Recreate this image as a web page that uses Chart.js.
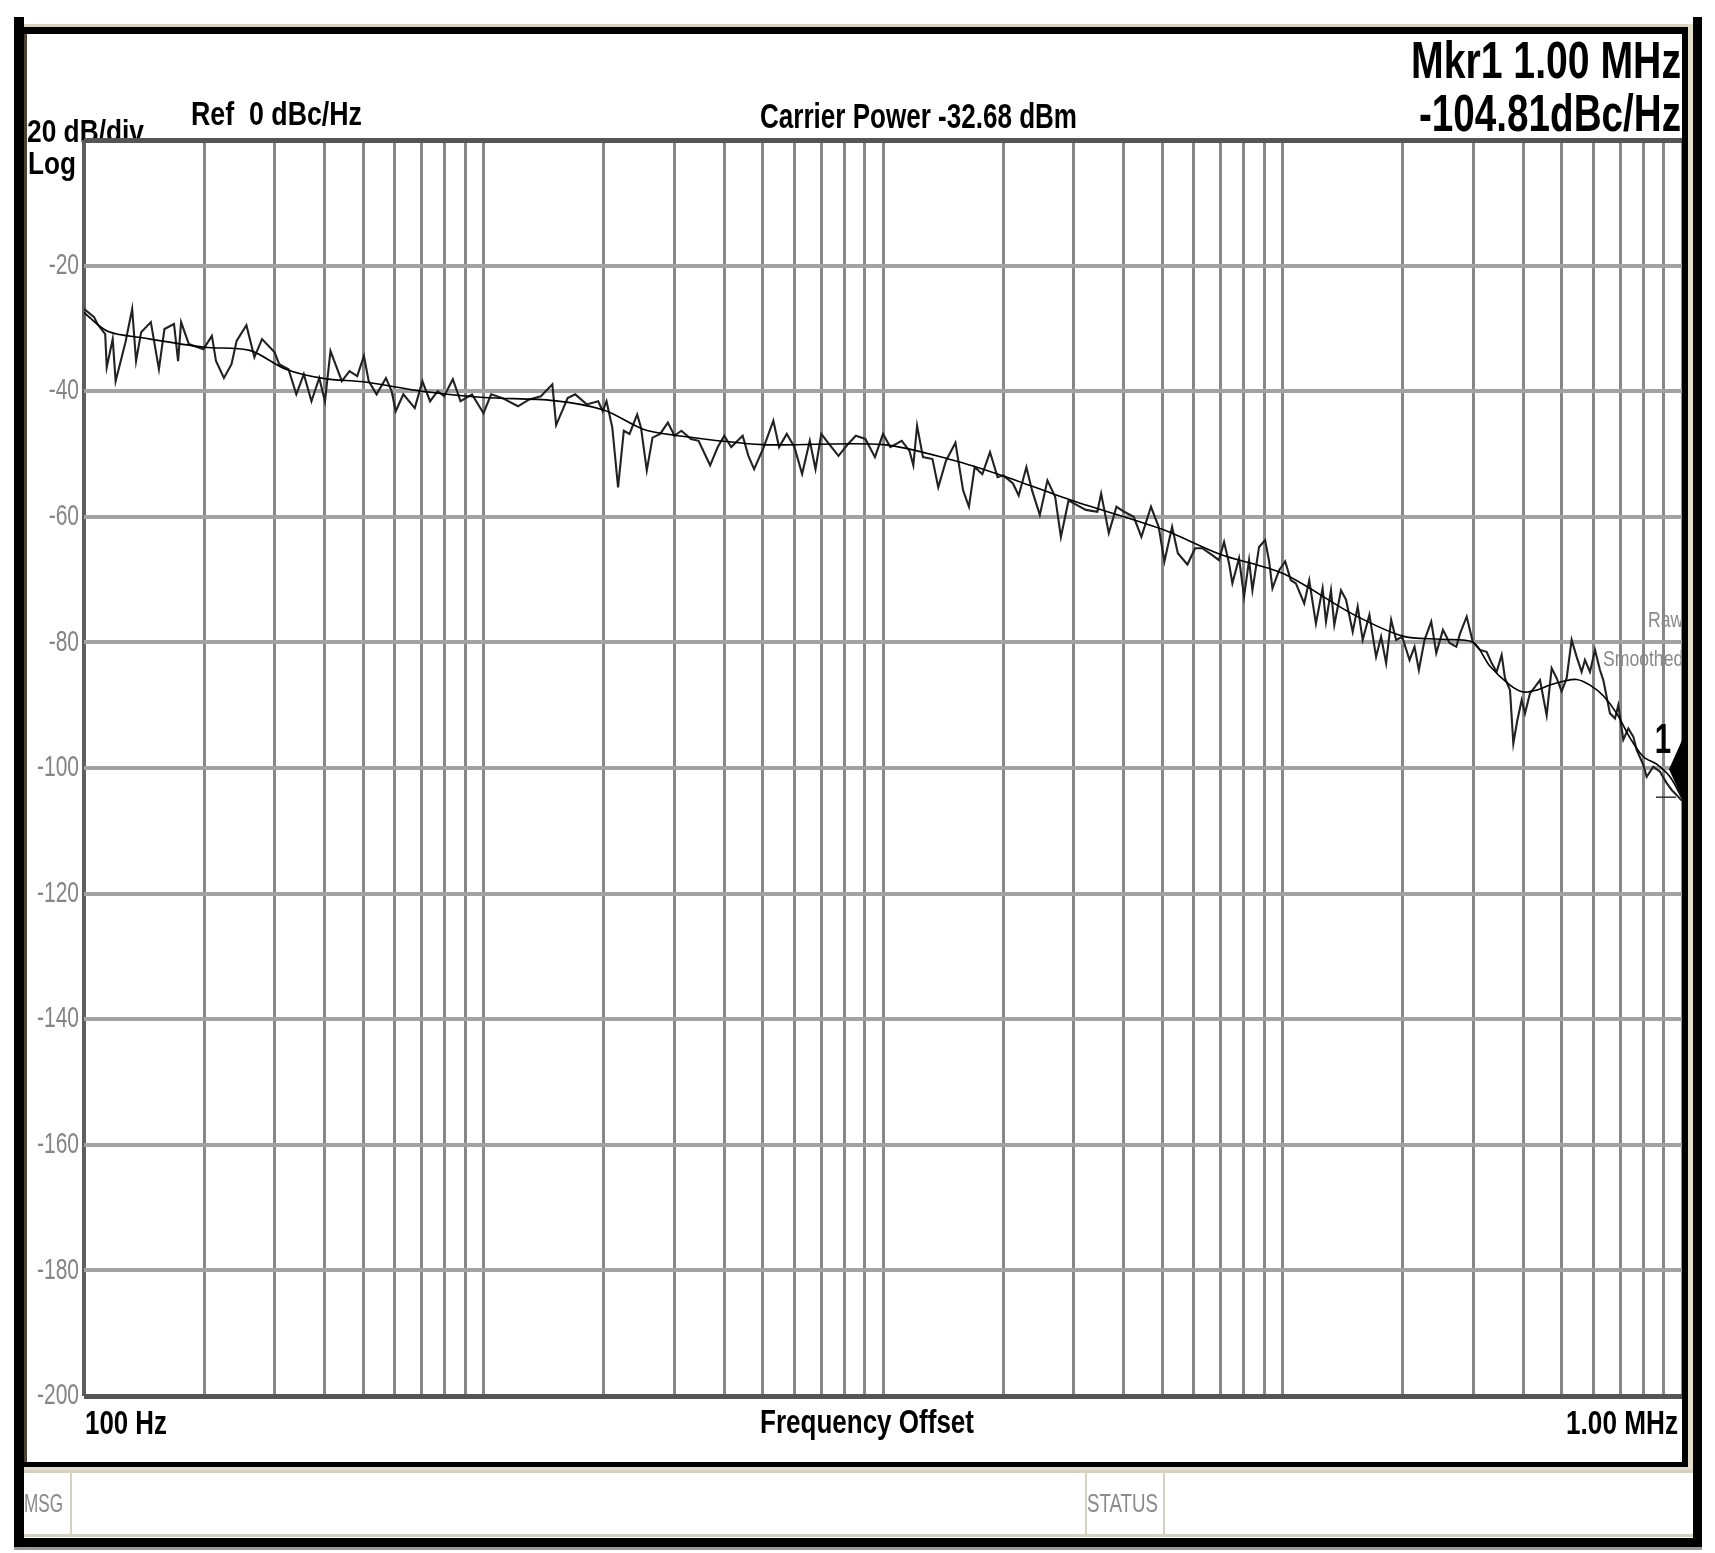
<!DOCTYPE html>
<html>
<head>
<meta charset="utf-8">
<title>Phase Noise - Frequency Offset</title>
<script src="https://cdn.jsdelivr.net/npm/chart.js@4.4.1/dist/chart.umd.min.js"></script>
<style>
    html, body { margin: 0; padding: 0; background: #fff; }
    canvas { display: block; }
</style>
</head>
<body>
<canvas id="pnChart" width="1715" height="1553"></canvas>
<script>
// --- Data ---
// raw trace: offset frequency (Hz) / level (dBc/Hz)
const rawFreq = [
    // 100 Hz .. 2 kHz
    100, 106, 108, 113, 114, 118, 120, 127, 132, 135,
    139, 147, 154, 159, 168, 172, 175, 183, 199, 209,
    214, 224, 234, 241, 255, 267, 279, 300, 308, 325,
    340, 355, 371, 388, 401, 414, 442, 462, 483, 502,
    516, 540, 570, 589, 603, 630, 673, 703, 735, 768,
    797, 838, 876, 936, 1000, 1045, 1116, 1220, 1302, 1392,
    1487, 1520, 1624, 1697, 1813, 1937,
    // 2 kHz .. 60 kHz
    1988, 2032, 2101, 2172, 2245, 2320, 2425, 2479, 2563, 2649,
    2769, 2894, 3006, 3129, 3306, 3454, 3692, 3858, 4006, 4169,
    4454, 4603, 4758, 5029, 5315, 5494, 5743, 6003, 6274, 6557,
    6777, 7006, 7322, 7738, 8179, 8549, 9035, 9546, 10000, 10430,
    11140, 11650, 11910, 12170, 12590, 13300, 13750, 14370, 15180, 15870,
    16410, 16960, 17730, 18530, 19360, 20010, 21150, 21860, 22850, 23610,
    24690, 25800, 26970, 27880, 29140, 30120, 32200, 34400, 35160, 36750,
    38410, 40150, 42420, 44340, 46860, 48980, 50630, 52920, 54700, 57810,
    60420,
    // 60 kHz .. 270 kHz
    62970, 66710, 69340, 71400, 73480, 74910, 77840, 80130, 82480, 84090,
    87380, 90460, 92580, 94380, 98080, 101550, 104930, 108020, 113340, 116670,
    121240, 126010, 128470, 132240, 134810, 140100, 144210, 149870, 154260, 158770,
    165030, 171500, 176540, 181700, 187060, 192530, 199300, 207970, 214050, 219470,
    226770, 235690, 242610, 252140, 262040, 272330,
    // 270 kHz .. 1 MHz
    278200, 289100, 299400, 312100, 324300, 333800, 343600, 353700, 360500, 371100,
    378300, 387100, 396900, 404600, 416400, 428600, 441100, 458400, 471800, 485600,
    499700, 514400, 529400, 544900, 560800, 571600, 588400, 605600, 623300, 635300,
    660300, 679600, 692700, 713000, 733800, 755200, 770000, 800100, 815800, 847500,
    880900, 915600, 942400, 979000, 1000000
];
const rawLevel = [
    -26.9, -28.2, -29.3, -30.9, -36.2, -31.7, -38.4, -32.2, -26.9, -35.2,
    -30.6, -29.0, -36.5, -30.1, -29.3, -35.2, -29.0, -32.5, -33.3, -31.2,
    -35.2, -37.9, -35.7, -32.0, -29.5, -34.6, -31.7, -33.8, -35.7, -36.5,
    -40.5, -37.3, -41.6, -37.9, -41.6, -33.6, -38.4, -36.8, -37.6, -34.4,
    -38.4, -40.5, -37.9, -40.0, -43.2, -40.5, -42.7, -38.4, -41.6, -40.0,
    -40.8, -38.1, -41.6, -40.5, -43.5, -40.5, -41.1, -42.4, -41.3, -40.8,
    -38.9, -45.4, -41.1, -40.5, -42.1, -41.6,

    -43.2, -41.6, -45.8, -55.3, -46.3, -46.8, -43.7, -45.8, -52.6, -47.4,
    -46.8, -45.0, -47.1, -46.3, -47.6, -47.9, -51.8, -48.9, -47.1, -48.9,
    -47.1, -50.3, -52.4, -48.9, -44.7, -48.9, -46.8, -48.9, -53.2, -47.9,
    -52.4, -46.8, -48.4, -50.3, -48.4, -47.1, -47.6, -50.5, -46.8, -48.9,
    -47.9, -49.5, -51.8, -45.5, -50.5, -50.8, -55.3, -51.1, -48.2, -55.8,
    -58.4, -52.1, -53.2, -49.7, -53.7, -53.4, -54.7, -56.6, -52.1, -55.8,
    -59.7, -54.2, -56.8, -63.2, -57.4, -57.9, -58.9, -59.2, -56.3, -62.6,
    -58.4, -59.2, -60.0, -63.2, -58.4, -61.6, -67.1, -61.6, -65.8, -67.6,
    -65.0,

    -65.0, -66.1, -66.9, -64.0, -67.4, -70.6, -66.6, -72.7, -66.9, -71.7,
    -64.8, -63.7, -67.1, -71.4, -68.5, -67.1, -70.1, -70.6, -73.8, -70.1,
    -77.0, -71.4, -76.7, -71.7, -77.2, -71.7, -73.2, -78.3, -74.3, -79.6,
    -75.6, -82.3, -79.1, -83.3, -76.4, -79.6, -79.1, -82.8, -80.7, -84.4,
    -79.6, -76.7, -81.7, -78.0, -80.1, -80.7,

    -78.6, -75.9, -79.9, -81.2, -81.5, -83.3, -84.7, -82.0, -85.7, -87.6,
    -96.1, -92.4, -89.2, -91.3, -88.1, -87.1, -86.0, -91.6, -84.1, -85.7,
    -87.8, -85.7, -79.6, -82.3, -84.7, -82.8, -84.7, -81.2, -84.4, -86.0,
    -91.3, -92.1, -90.0, -95.5, -93.7, -95.0, -97.1, -99.5, -101.4, -99.8,
    -100.6, -102.4, -103.5, -104.6, -105.2
];

// smoothed trace
const smoothFreq = [
    100, 115, 140, 200, 260, 320, 400, 500, 700, 1000,
    1500, 2000, 2500, 3000, 5000, 10000, 15000, 20000, 30000, 50000,
    70000, 100000, 150000, 200000, 250000, 300000, 330700, 371100, 400600, 432800,
    467300, 504700, 544900, 588400, 635300, 686200, 741000, 800100, 864000, 933000,
    1000000
];
const smoothLevel = [
    -27.5, -30.5, -31.5, -33, -33.5, -36.5, -38, -38.5, -40, -41,
    -41.5, -43, -46, -47, -48.5, -48.5, -51, -53.5, -57.5, -62,
    -66, -69, -75.5, -79, -79.5, -80, -83.8, -86.8, -87.9, -87.6,
    -86.8, -86.2, -85.9, -86.8, -88.5, -91.3, -95.2, -98.2, -99.4, -101.4,
    -104.8
];

// axis grid / labels
const yTicks = [-20, -40, -60, -80, -100, -120, -140, -160, -180, -200];
const gridDecades = [100, 1000, 10000, 100000];
const gridSteps = [1, 2, 3, 4, 5, 6, 7, 8, 9];
const xGridFreqs = gridDecades.flatMap(d => gridSteps.map(s => s * d)).concat([1000000]);

// marker 1
const markerFreq = [1000000];
const markerLevel = [-104.81];

// --- Helpers ---
const FONT = '"Liberation Sans", Arial, sans-serif';

// draws text squeezed horizontally (instrument font is condensed)
function fitText(ctx, str, x, y, size, width, opts = {}) {
    ctx.save();
    ctx.font = `${opts.bold ? 'bold ' : ''}${size}px ${FONT}`;
    ctx.fillStyle = opts.color || '#000';
    ctx.textAlign = 'left';
    ctx.textBaseline = opts.baseline || 'alphabetic';
    const w = ctx.measureText(str).width;
    const sx = width ? width / w : (opts.scale || 1);
    const left = opts.align === 'right' ? x - w * sx : x;
    ctx.translate(left, y);
    ctx.scale(sx, 1);
    ctx.fillText(str, 0, 0);
    ctx.restore();
}

// --- Frame / annotation plugin ---
const instrumentFrame = {
    id: 'instrumentFrame',
    beforeDraw(chart) {
        const { ctx, chartArea: a } = chart;
        ctx.save();
        ctx.fillStyle = '#fff';
        ctx.fillRect(0, 0, chart.width, chart.height);
        ctx.restore();

        // header
        fitText(ctx, '20 dB/div', 27, 142, 31, 117, { bold: true });
        fitText(ctx, 'Log', 28, 174, 31, 48, { bold: true });
        fitText(ctx, 'Ref  0 dBc/Hz', 191, 125, 34, 171, { bold: true });
        fitText(ctx, 'Carrier Power -32.68 dBm', 760, 128, 35, 317, { bold: true });
        fitText(ctx, 'Mkr1 1.00 MHz', a.right - 1, 78, 52, 270, { bold: true, align: 'right' });
        fitText(ctx, '-104.81dBc/Hz', a.right - 1, 131, 52, 262, { bold: true, align: 'right' });

        // footer
        fitText(ctx, '100 Hz', a.left + 1, 1434, 33, 82, { bold: true });
        fitText(ctx, 'Frequency Offset', 760, 1433, 34, 214, { bold: true });
        fitText(ctx, '1.00 MHz', a.right - 4, 1434, 33, 112, { bold: true, align: 'right' });

        // y labels
        const y = chart.scales.y;
        yTicks.forEach(v => fitText(ctx, String(v), a.left - 5, y.getPixelForValue(v), 30, null,
            { color: '#858585', scale: 0.7, align: 'right', baseline: 'middle' }));
    },
    afterDatasetsDraw(chart) {
        const { ctx, scales } = chart;
        fitText(ctx, 'Raw', 1648, 627, 22, null, { color: '#8a8a8a', scale: 0.8 });
        fitText(ctx, 'Smoothed', 1603, 666, 22, null, { color: '#8a8a8a', scale: 0.8 });

        const mx = scales.x.getPixelForValue(markerFreq[0]);
        const my = scales.y.getPixelForValue(markerLevel[0]);
        ctx.save();
        ctx.fillStyle = '#000';
        ctx.beginPath();
        ctx.moveTo(mx, my);
        ctx.lineTo(mx - 13, my - 29);
        ctx.lineTo(mx, my - 58);
        ctx.lineTo(mx + 13, my - 29);
        ctx.closePath();
        ctx.fill();
        ctx.strokeStyle = '#333';
        ctx.lineWidth = 1.5;
        ctx.beginPath();
        ctx.moveTo(mx - 26, my - 1);
        ctx.lineTo(mx - 6, my - 1);
        ctx.stroke();
        ctx.restore();
        fitText(ctx, '1', mx - 11, my - 45, 42, null, { bold: true, scale: 0.7, align: 'right' });
    },
    afterDraw(chart) {
        const { ctx } = chart;
        const rect = (x, y, w, h, c) => { ctx.fillStyle = c; ctx.fillRect(x, y, w, h); };
        ctx.save();
        // inner frame
        rect(23, 24, 1665, 3, '#d9d2bf');
        rect(23, 27, 1665, 7, '#000');
        rect(1682, 27, 6, 1440, '#000');
        rect(1688, 24, 5, 1446, '#e6dfca');
        rect(14, 1462, 1674, 5, '#000');
        rect(23, 1467, 1670, 3, '#e2dccb');
        // message bar
        rect(23, 1470, 1670, 3, '#d6d0c0');
        rect(23, 1534, 1670, 3, '#d6d0c0');
        rect(70, 1473, 2, 61, '#d6d0c0');
        rect(1085, 1473, 2, 61, '#d6d0c0');
        rect(1163, 1473, 2, 61, '#d6d0c0');
        // outer bezel
        rect(14, 17, 10, 1530, '#000');
        rect(24, 34, 3, 1428, '#4b4335');
        rect(1693, 17, 9, 1530, '#000');
        rect(14, 1538, 1688, 9, '#000');
        rect(14, 1547, 1688, 3, '#9a9a9a');
        ctx.restore();
        fitText(ctx, 'MSG', 24, 1512, 26, 39, { color: '#8a8a8a' });
        fitText(ctx, 'STATUS', 1087, 1512, 26, 71, { color: '#8a8a8a' });
    }
};

// --- Chart ---
const toPoints = (xs, ys) => xs.map((f, i) => ({ x: f, y: ys[i] }));

const gridColor = (axis) => (c) => {
    const v = c.tick && c.tick.value;
    if (axis === 'x') return v === 100 ? '#5e5e5e' : '#878787';
    return (v === 0 || v === -200) ? '#555' : '#a2a2a2';
};
const gridWidth = (axis) => (c) => {
    const v = c.tick && c.tick.value;
    if (axis === 'x') return v === 100 ? 4 : 3;
    return (v === 0 || v === -200) ? 5 : 4;
};

new Chart(document.getElementById('pnChart').getContext('2d'), {
    type: 'line',
    data: {
        datasets: [
            { label: 'Smoothed', data: toPoints(smoothFreq, smoothLevel), borderColor: '#000', borderWidth: 1.6, pointRadius: 0, tension: 0.3 },
            { label: 'Raw', data: toPoints(rawFreq, rawLevel), borderColor: '#222', borderWidth: 2.1, pointRadius: 0, tension: 0 }
        ]
    },
    options: {
        responsive: false,
        animation: false,
        devicePixelRatio: 1,
        layout: { padding: { left: 84, top: 140, right: 33, bottom: 157 } },
        plugins: { legend: { display: false }, tooltip: { enabled: false } },
        scales: {
            x: {
                type: 'logarithmic', min: 100, max: 1000000,
                afterBuildTicks: s => { s.ticks = xGridFreqs.map(v => ({ value: v })); },
                ticks: { display: false },
                grid: { drawTicks: false, color: gridColor('x'), lineWidth: gridWidth('x') },
                border: { display: false }
            },
            y: {
                type: 'linear', min: -200, max: 0,
                ticks: { display: false, stepSize: 20 },
                grid: { drawTicks: false, color: gridColor('y'), lineWidth: gridWidth('y') },
                border: { display: false }
            }
        }
    },
    plugins: [instrumentFrame]
});
</script>
</body>
</html>
